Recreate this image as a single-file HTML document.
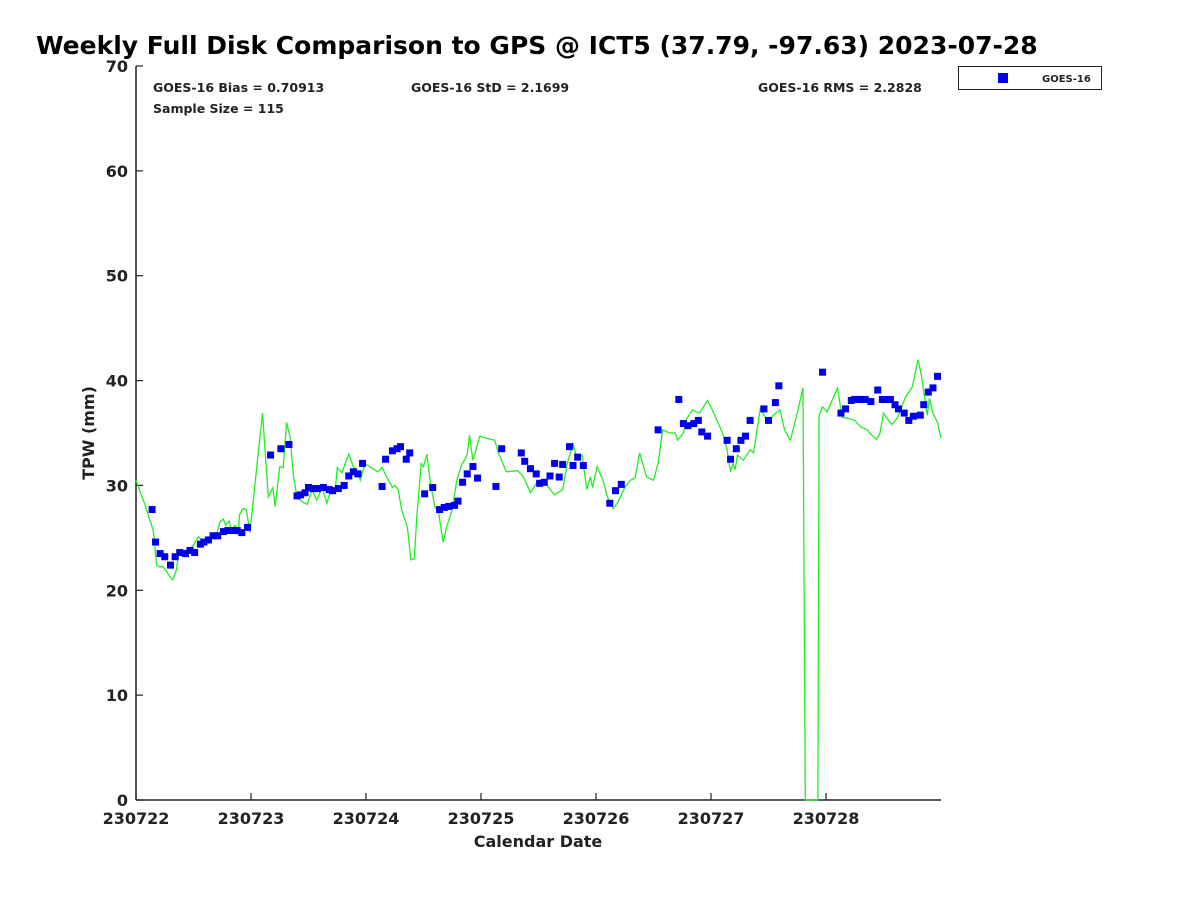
<!DOCTYPE html>
<html><head><meta charset="utf-8">
<style>
body{margin:0;background:#fff;}
svg text{font-family:"DejaVu Sans","Liberation Sans",sans-serif;font-weight:bold;fill:#222;}
</style></head>
<body>
<svg id="chart" width="1200" height="900" xmlns="http://www.w3.org/2000/svg">
<text x="36" y="54" font-size="25" style="fill:#000">Weekly Full Disk Comparison to GPS @ ICT5 (37.79, -97.63) 2023-07-28</text>
<text x="153" y="92" font-size="12.5">GOES-16 Bias = 0.70913</text>
<text x="411" y="92" font-size="12.5">GOES-16 StD = 2.1699</text>
<text x="758" y="92" font-size="12.5">GOES-16 RMS = 2.2828</text>
<text x="153" y="113" font-size="12.5">Sample Size = 115</text>
<g>
<rect x="958.5" y="66.5" width="143" height="23" fill="#fff" stroke="#222"/>
<rect x="998" y="73" width="10" height="10" fill="#0000ee"/>
<text x="1042" y="82" font-size="10">GOES-16</text>
</g>
<text transform="translate(94,433) rotate(-90)" text-anchor="middle" font-size="16">TPW (mm)</text>
<text x="538" y="847" text-anchor="middle" font-size="16">Calendar Date</text>
<g id="axes"></g>
<g id="series"></g>
</svg>
<script>
const xTickLabels=["230722","230723","230724","230725","230726","230727","230728"];
const yTickValues=[0,10,20,30,40,50,60,70];
const gpsDays=[0,.03,.08,.12,.15,.17,.18,.21,.23,.26,.30,.32,.35,.37,.40,.43,.47,.50,.54,.57,.59,.63,.66,.70,.73,.76,.78,.81,.83,.86,.89,.90,.93,.96,.99,1.10,1.15,1.19,1.21,1.25,1.28,1.31,1.34,1.37,1.40,1.45,1.49,1.53,1.57,1.62,1.66,1.70,1.73,1.75,1.79,1.82,1.85,1.89,1.92,1.95,1.99,2.03,2.10,2.14,2.18,2.23,2.25,2.28,2.31,2.36,2.39,2.42,2.44,2.48,2.50,2.53,2.56,2.60,2.63,2.67,2.70,2.75,2.79,2.83,2.88,2.90,2.93,2.99,3.05,3.12,3.15,3.18,3.22,3.32,3.37,3.43,3.50,3.56,3.64,3.71,3.75,3.80,3.83,3.88,3.92,3.95,3.97,4.01,4.06,4.10,4.15,4.19,4.25,4.30,4.34,4.38,4.44,4.50,4.54,4.58,4.64,4.69,4.71,4.76,4.79,4.84,4.90,4.97,5.02,5.10,5.14,5.17,5.19,5.21,5.23,5.28,5.34,5.37,5.43,5.45,5.50,5.54,5.60,5.64,5.69,5.75,5.80,5.82,5.93,5.94,5.97,6.01,6.10,6.14,6.19,6.25,6.30,6.36,6.38,6.44,6.47,6.50,6.57,6.62,6.69,6.75,6.80,6.83,6.88,6.90,6.93,6.97,7.00];
const gpsValues=[30.5,29.6,28.1,26.7,25.7,23.4,22.4,22.2,22.3,21.9,21.2,21.0,21.9,23.4,23.7,23.8,24.0,24.3,25.1,24.8,24.8,24.5,25.0,25.3,26.5,26.8,26.2,26.6,25.7,26.2,25.7,27.2,27.8,27.7,25.5,36.9,28.9,29.8,28.0,31.8,31.7,36.0,34.6,30.8,28.9,28.4,28.2,29.6,28.6,29.8,28.3,29.8,29.3,31.7,31.2,32.1,33.0,31.8,31.5,30.5,32.1,31.8,31.3,31.7,30.8,29.8,30.0,29.6,27.7,26.0,22.9,23.0,26.7,32.1,31.8,33.0,30.2,27.9,27.5,24.6,26.0,27.7,30.5,31.9,32.9,34.8,32.4,34.7,34.5,34.3,33.1,32.4,31.3,31.4,30.8,29.3,30.5,30.2,29.1,29.6,32.1,34.0,32.7,32.9,29.6,30.8,29.8,31.8,30.5,28.9,27.8,28.4,29.8,30.5,30.7,33.1,30.8,30.5,32.1,35.3,35.0,35.0,34.3,35.0,36.4,37.2,36.9,38.1,37.0,35.0,33.4,31.3,32.1,31.5,32.9,32.4,33.4,33.1,37.4,36.9,36.0,36.7,37.2,35.3,34.3,36.9,39.3,0,0,36.7,37.5,37.0,39.3,36.5,36.4,36.2,35.6,35.3,35.0,34.4,35.0,36.9,35.8,36.4,38.4,39.4,42.0,40.5,36.7,38.3,36.9,36.0,34.5];
const goesDays=[.14,.17,.21,.25,.30,.34,.38,.43,.47,.51,.56,.59,.63,.67,.71,.76,.80,.84,.88,.92,.97,1.17,1.26,1.33,1.40,1.43,1.47,1.50,1.54,1.58,1.63,1.68,1.71,1.76,1.81,1.85,1.89,1.93,1.97,2.14,2.17,2.23,2.27,2.30,2.35,2.38,2.51,2.58,2.64,2.68,2.72,2.77,2.80,2.84,2.88,2.93,2.97,3.13,3.18,3.35,3.38,3.43,3.48,3.51,3.55,3.60,3.64,3.68,3.71,3.77,3.80,3.84,3.89,4.12,4.17,4.22,4.54,4.72,4.76,4.80,4.85,4.89,4.92,4.97,5.14,5.17,5.22,5.26,5.30,5.34,5.46,5.50,5.56,5.59,5.97,6.13,6.17,6.22,6.25,6.29,6.34,6.39,6.45,6.49,6.52,6.56,6.60,6.63,6.68,6.72,6.76,6.82,6.85,6.89,6.93,6.97];
const goesValues=[27.7,24.6,23.5,23.2,22.4,23.2,23.6,23.5,23.8,23.6,24.4,24.6,24.8,25.2,25.2,25.6,25.7,25.7,25.7,25.5,26.0,32.9,33.5,33.9,29.0,29.1,29.3,29.8,29.7,29.7,29.8,29.6,29.5,29.7,30.0,30.9,31.3,31.1,32.1,29.9,32.5,33.3,33.5,33.7,32.5,33.1,29.2,29.8,27.7,27.9,28.0,28.1,28.5,30.3,31.1,31.8,30.7,29.9,33.5,33.1,32.3,31.6,31.1,30.2,30.3,30.9,32.1,30.8,32.0,33.7,31.9,32.7,31.9,28.3,29.5,30.1,35.3,38.2,35.9,35.7,35.9,36.2,35.1,34.7,34.3,32.5,33.5,34.3,34.7,36.2,37.3,36.2,37.9,39.5,40.8,36.9,37.3,38.1,38.2,38.2,38.2,38.0,39.1,38.2,38.2,38.2,37.7,37.3,36.9,36.2,36.6,36.7,37.7,38.9,39.3,40.4,39.9];

const NS='http://www.w3.org/2000/svg';
const L=136,R=941,T=66,B=800;
const xs=d=>L+d*(R-L)/7;
const ys=v=>B-v*(B-T)/70;
function mk(tag,attrs,parent){const e=document.createElementNS(NS,tag);for(const k in attrs)e.setAttribute(k,attrs[k]);parent.appendChild(e);return e;}
const axes=document.getElementById('axes'),series=document.getElementById('series');
let e=mk('line',{x1:L,y1:T,x2:L,y2:B,stroke:'#222','stroke-width':1.5},axes);


e=mk('line',{x1:L,y1:B,x2:R,y2:B,stroke:'#222','stroke-width':1.5},axes);


yTickValues.forEach(v=>{
  const t=mk('line',{x1:L,y1:ys(v),x2:L+7,y2:ys(v),stroke:'#222','stroke-width':1.2},axes);
  
  
  const tx=mk('text',{x:L-8,y:ys(v)+6,'text-anchor':'end','font-size':16},axes);
  tx.textContent=v;
  
  
});
xTickLabels.forEach((lab,i)=>{
  const t=mk('line',{x1:xs(i),y1:B,x2:xs(i),y2:B-7,stroke:'#222','stroke-width':1.2},axes);
  
  
  const tx=mk('text',{x:xs(i),y:B+24,'text-anchor':'middle','font-size':16},axes);
  tx.textContent=lab;
  
  
});
const pts=gpsDays.map((d,i)=>xs(d).toFixed(1)+','+ys(gpsValues[i]).toFixed(1)).join(' ');
const pl=mk('polyline',{points:pts,fill:'none',stroke:'#22ee22','stroke-width':1.3},series);


goesDays.forEach((d,i)=>{
  const r=mk('rect',{x:xs(d)-3.5,y:ys(goesValues[i])-3.5,width:7,height:7,fill:'#0000ee'},series);
  
  
});
</script>
</body></html>
